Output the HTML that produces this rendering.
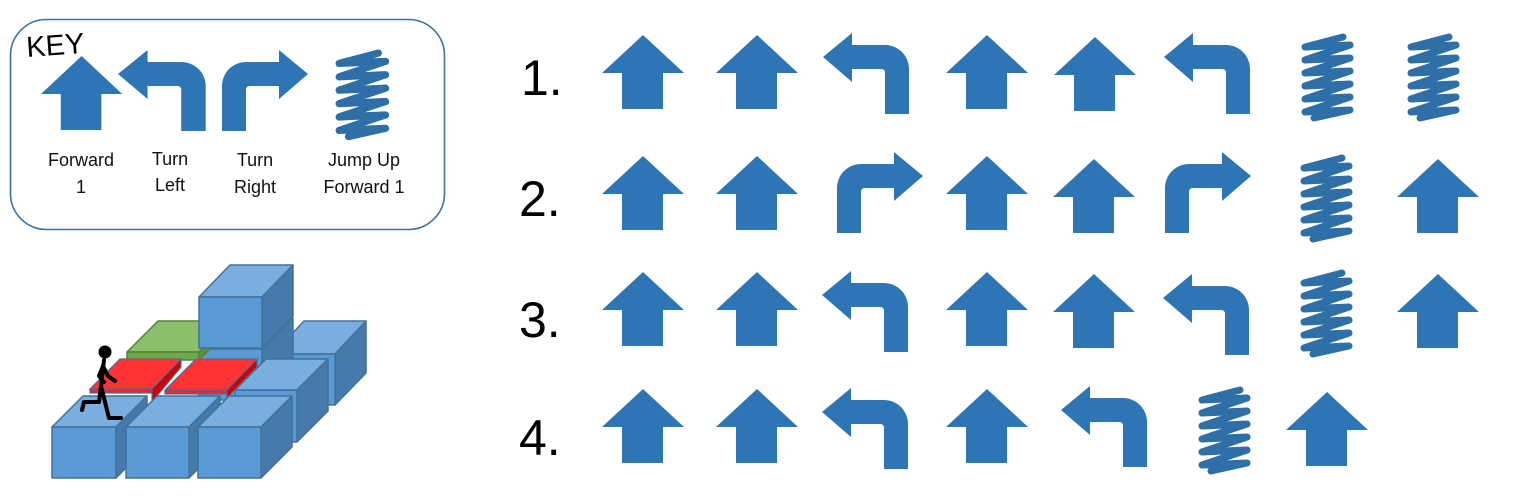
<!DOCTYPE html>
<html><head><meta charset="utf-8"><style>
html,body{margin:0;padding:0;background:#fff;}
svg{display:block;}
text{font-family:"Liberation Sans",sans-serif;}
</style></head><body>
<svg width="1516" height="499" viewBox="0 0 1516 499" xmlns="http://www.w3.org/2000/svg">
<defs>
<path id="up" d="M41,0 L82,38 L61,38 L61,74 L20,74 L20,38 L0,38Z" fill="#2e75b6"/>
<path id="lt" d="M0,24 L29,0 L29,12 L62,12 A24,24 0 0 1 86,36 L86,81 L62,81 L62,40 Q62,36 58,36 L29,36 L29,49 Z" fill="#2e75b6"/>
<g id="rt"><use href="#lt" transform="translate(87,0) scale(-1,1)"/></g>
<polyline id="sp" points="44,4 6,14 51,12 6,27 51,25 6,40 51,38 6,53 51,51 6,66 51,64 6,79 51,77 15,85" fill="none" stroke="#2e6fa8" stroke-width="7" stroke-linecap="round" stroke-linejoin="round"/>
</defs>

<!-- KEY box -->
<rect x="10.5" y="19.5" width="434" height="210" rx="36" fill="#fff" stroke="#41719c" stroke-width="1.6"/>
<text x="27" y="57" font-size="29" fill="#000" transform="rotate(-4 27 57)">KEY</text>
<use href="#up" transform="translate(41,56) scale(0.99,1.0)"/>
<use href="#lt" transform="translate(118,50) scale(1.02,1.0)"/>
<use href="#rt" transform="translate(221,50) scale(1.0,1.0)"/>
<use href="#sp" transform="translate(333,49) scale(1.03,1.03)"/>
<g font-size="18" fill="#111" text-anchor="middle">
<text x="81" y="166">Forward</text><text x="81" y="193">1</text>
<text x="170" y="165">Turn</text><text x="170" y="191">Left</text>
<text x="255" y="166">Turn</text><text x="255" y="193">Right</text>
<text x="364" y="166">Jump Up</text><text x="364" y="193">Forward 1</text>
</g>

<!-- numbers -->
<g font-size="50" fill="#000">
<text x="521" y="95">1.</text>
<text x="519" y="216">2.</text>
<text x="519" y="337">3.</text>
<text x="519" y="455">4.</text>
</g>

<!-- row 1 -->
<use href="#up" transform="translate(602,35)"/>
<use href="#up" transform="translate(716,35)"/>
<use href="#lt" transform="translate(823,33)"/>
<use href="#up" transform="translate(946,35)"/>
<use href="#up" transform="translate(1054,37)"/>
<use href="#lt" transform="translate(1164,33)"/>
<use href="#sp" transform="translate(1299,33)"/>
<use href="#sp" transform="translate(1405,33)"/>
<!-- row 2 -->
<use href="#up" transform="translate(602,156)"/>
<use href="#up" transform="translate(716,156)"/>
<use href="#rt" transform="translate(836,152)"/>
<use href="#up" transform="translate(946,156)"/>
<use href="#up" transform="translate(1053,159)"/>
<use href="#rt" transform="translate(1164,152)"/>
<use href="#sp" transform="translate(1298,154)"/>
<use href="#up" transform="translate(1397,159)"/>
<!-- row 3 -->
<use href="#up" transform="translate(602,272)"/>
<use href="#up" transform="translate(716,272)"/>
<use href="#lt" transform="translate(822,271)"/>
<use href="#up" transform="translate(946,272)"/>
<use href="#up" transform="translate(1053,274)"/>
<use href="#lt" transform="translate(1163,274)"/>
<use href="#sp" transform="translate(1298,269)"/>
<use href="#up" transform="translate(1397,274)"/>
<!-- row 4 -->
<use href="#up" transform="translate(602,389)"/>
<use href="#up" transform="translate(716,389)"/>
<use href="#lt" transform="translate(822,388)"/>
<use href="#up" transform="translate(946,389)"/>
<use href="#lt" transform="translate(1061,386)"/>
<use href="#sp" transform="translate(1196,386)"/>
<use href="#up" transform="translate(1286,392)"/>

<!-- blocks scene -->
<g stroke="#41719c" stroke-width="1.5" stroke-linejoin="round">
<polygon points="273,354 304,321 366,321 335,354" fill="#7aaedf"/>
<polygon points="335,354 366,321 366,373 335,405" fill="#467aaa"/>
<rect x="273" y="354" width="62" height="51" fill="#5b9bd5"/>
<polygon points="199,349 230,318 293,318 262,349" fill="#7aaedf"/>
<polygon points="262,349 293,318 293,370 262,400" fill="#467aaa"/>
<rect x="199" y="349" width="63" height="51" fill="#5b9bd5"/>
<polygon points="127,352 158,321 230,321 199,352" fill="#8cbf6a" stroke="#548235"/>
<polygon points="199,352 230,321 230,329 199,360" fill="#5f8f3a" stroke="#548235"/>
<rect x="127" y="352" width="72" height="8" fill="#70a84a" stroke="#548235"/>
<polygon points="199,297 230,265 293,265 262,297" fill="#7aaedf"/>
<polygon points="262,297 293,265 293,316 262,348" fill="#467aaa"/>
<rect x="199" y="297" width="63" height="51" fill="#5b9bd5"/>
<polygon points="235,390 266,359 328,359 297,390" fill="#7aaedf"/>
<polygon points="297,390 328,359 328,411 297,442" fill="#467aaa"/>
<rect x="235" y="390" width="62" height="52" fill="#5b9bd5"/>
</g>
<g stroke="#41719c" stroke-width="1.2">
<polygon points="90,389 120,359 181,359 152,389" fill="#ff3333"/>
<polygon points="152,389 181,359 181,367 152,402" fill="#d00000"/>
<rect x="90" y="389" width="62" height="4" fill="#ff2020"/>
<polygon points="165,390 196,359 257,359 227,390" fill="#ff3333"/>
<polygon points="227,390 257,359 257,367 227,398" fill="#d00000"/>
<rect x="165" y="390" width="62" height="4" fill="#ff2020"/>
</g>
<g stroke="#41719c" stroke-width="1.5" stroke-linejoin="round">
<polygon points="52,427 83,396 147,396 116,427" fill="#7aaedf"/>
<polygon points="116,427 147,396 147,447 116,478" fill="#467aaa"/>
<rect x="52" y="427" width="64" height="51" fill="#5b9bd5"/>
<polygon points="126,427 157,396 220,396 189,427" fill="#7aaedf"/>
<polygon points="189,427 220,396 220,447 189,478" fill="#467aaa"/>
<rect x="126" y="427" width="63" height="51" fill="#5b9bd5"/>
<polygon points="198,427 229,396 292,396 261,427" fill="#7aaedf"/>
<polygon points="261,427 292,396 292,447 261,478" fill="#467aaa"/>
<rect x="198" y="427" width="63" height="51" fill="#5b9bd5"/>
</g>
<g stroke="#000" stroke-width="4" stroke-linecap="round" stroke-linejoin="round" fill="none">
<line x1="104" y1="360" x2="101" y2="386"/>
<polyline points="103,366 99,376 104,382"/>
<polyline points="103,366 108,376 115,381"/>
<polyline points="101,386 99,402 84,402 82,410"/>
<polyline points="101,386 109,418 121,418"/>
</g>
<circle cx="105" cy="352" r="6.5" fill="#000"/>
</svg>
</body></html>
